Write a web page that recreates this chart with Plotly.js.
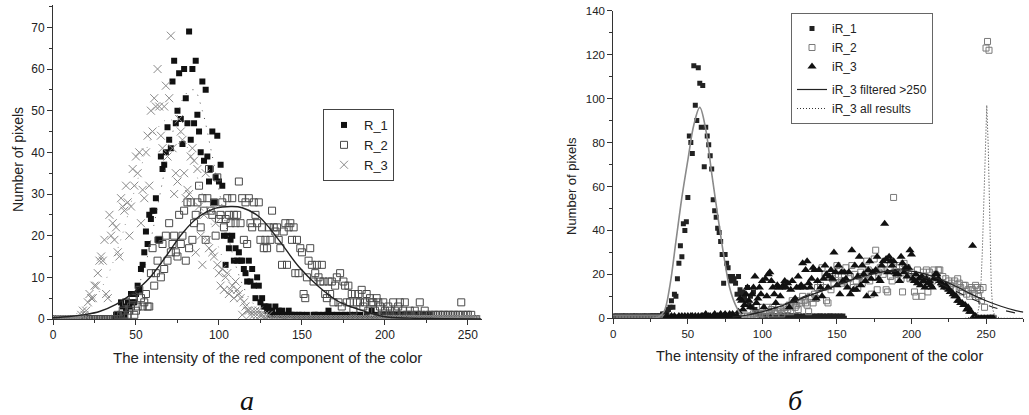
<!DOCTYPE html>
<html><head><meta charset="utf-8">
<script src="https://cdn.plot.ly/plotly-3.0.1.min.js"></script>
<style>html,body{margin:0;padding:0;background:#fff}#chart{width:1029px;height:415px}</style>
</head><body><div id="chart"></div>
<script>
const _ = null;
const intensity = [
0,1,2,3,4,5,6,7,8,9,10,11,12,13,14,15,16,17,18,19,
20,21,22,23,24,25,26,27,28,29,30,31,32,33,34,35,36,37,38,39,
40,41,42,43,44,45,46,47,48,49,50,51,52,53,54,55,56,57,58,59,
60,61,62,63,64,65,66,67,68,69,70,71,72,73,74,75,76,77,78,79,
80,81,82,83,84,85,86,87,88,89,90,91,92,93,94,95,96,97,98,99,
100,101,102,103,104,105,106,107,108,109,110,111,112,113,114,115,116,117,118,119,
120,121,122,123,124,125,126,127,128,129,130,131,132,133,134,135,136,137,138,139,
140,141,142,143,144,145,146,147,148,149,150,151,152,153,154,155,156,157,158,159,
160,161,162,163,164,165,166,167,168,169,170,171,172,173,174,175,176,177,178,179,
180,181,182,183,184,185,186,187,188,189,190,191,192,193,194,195,196,197,198,199,
200,201,202,203,204,205,206,207,208,209,210,211,212,213,214,215,216,217,218,219,
220,221,222,223,224,225,226,227,228,229,230,231,232,233,234,235,236,237,238,239,
240,241,242,243,244,245,246,247,248,249,250,251,252,253,254,255];

// ---- panel a: red component ----
const R1 = [
_,_,_,_,_,_,_,_,_,_, _,_,_,_,_,_,_,_,_,_, _,_,_,_,_,_,_,_,_,_, _,_,_,_,_,_,_,0,1,1,
0,4,3,1,2,4,3,6,4,4, 6,8,7,12,13,16,21,18,25,24, 26,26,29,19,19,39,36,37,40,46, 43,41,57,62,47,50,59,48,42,60,
53,47,69,43,60,47,62,49,45,40, 57,38,55,39,33,36,45,28,34,44, 33,37,32,20,13,20,17,19,20,14, 17,14,16,14,14,12,11,9,14,9,
12,8,5,10,8,4,5,3,3,2, 3,1,2,1,3,1,2,1,2,1, 0,1,2,1,1,0,1,0,1,0, 1,0,0,1,0,0,0,1,1,0,
1,0,0,1,0,1,2,0,1,0, 0,1,0,0,1,0,1,0,0,1, 0,0,1,0,0,1,0,0,0,1, 0,0,2,0,0,1,0,0,0,1,
0,0,0,1,0,0,0,1,0,0, 0,1,0,0,0,1,0,0,0,1, 0,0,0,1,0,0,0,1,_,_, _,_,_,_,_,_,_,_,_,_,
_,_,_,_,_,_,_,_,_,_, _,_,_,_,_,_];
const R2 = [
0,0,0,0,0,0,0,0,0,0, 0,0,0,0,0,0,0,0,0,0, 0,0,0,0,0,0,0,0,0,0, 0,0,0,0,0,0,0,0,0,1,
0,1,2,1,4,1,2,3,5,1, 2,3,7,5,3,4,6,3,3,11, 17,8,11,14,19,10,18,12,20,14, 23,16,18,20,16,15,25,18,20,26,
14,28,17,28,19,23,25,28,32,22, 29,26,19,29,36,26,25,28,20,34, 24,25,28,22,24,29,25,23,29,25, 23,25,33,23,29,19,28,18,29,23,
22,28,25,23,28,19,22,17,19,17, 22,19,26,22,21,22,19,17,13,21, 23,13,22,23,19,22,11,19,11,17, 16,6,5,10,14,17,13,9,11,13,
10,9,13,9,6,5,9,6,9,4, 8,10,4,11,3,9,8,4,8,4, 6,2,6,4,6,4,7,3,4,6, 2,5,4,4,2,5,4,3,1,4,
2,1,3,2,1,4,2,1,3,4, 1,2,4,1,1,2,1,0,2,1, 1,4,1,0,2,1,0,1,0,1, 1,0,1,1,0,1,1,0,1,1,
0,1,1,0,1,1,4,1,0,1, 1,0,1,0,0,0];
const R3 = [
0,0,0,0,0,0,0,0,0,0, 0,0,0,0,0,0,0,1,2,1, 2,4,6,5,5,8,8,11,14,15, 14,19,6,5,25,20,23,19,22,16,
15,29,27,26,32,28,20,27,36,32, 39,35,40,23,31,29,40,44,32,50, 45,53,51,60,51,44,41,51,56,39, 53,68,41,30,35,33,48,45,43,35,
29,31,30,39,41,38,16,36,27,20, 13,25,35,19,17,26,16,15,23,13, 11,8,12,7,10,11,6,7,8,5, 9,7,6,5,1,4,3,2,2,1,
2,1,2,1,2,1,1,0,1,0, 1,0,0,0,0,0,0,0,0,0, 0,0,0,0,0,0,0,0,0,0, 0,0,0,0,0,0,0,0,0,0,
0,0,0,0,0,0,0,0,0,0, 0,0,0,0,0,0,0,0,0,0, 0,0,0,0,0,0,0,0,0,0, 0,0,0,0,0,0,0,0,0,0,
0,0,0,0,0,0,0,0,0,0, 0,0,0,0,0,0,0,0,0,0, 0,0,0,0,0,0,0,0,0,0, 0,0,0,0,0,0,0,0,0,0,
0,0,0,0,0,0,0,0,0,0, 0,0,0,0,0,0];
// fitted curves
const fitR2X = [0,10,20,28,38,48,58,68,78,88,98,108,114,124,136,148,160,172,185,199,215,235,258];
const fitR2Y = [0.3,0.6,1.1,1.8,3.5,6.2,9.8,15,20.6,24.6,26.6,27,26.7,24.6,19,12.6,7.8,4.2,2.2,0.6,0.2,0.1,0];
const fitR1X = [30,40,50,55,60,65,70,75,80,85,90,95,100,105,110,115,120,130,140];
const fitR1Y = [0.5,1.7,7,12,21,31,41,49,54,55,50,41,31,21,13,7.5,4,1,0.2];
const fitR3X = [0,10,20,30,40,50,60,70,80,90,100,110,120,130,140];
const fitR3Y = [0.3,0.7,2.7,8,18,32,44,48,42,30,17,8,3,1,0.2];

// ---- panel b: infrared component ----
const iR1 = [
1,1,0,1,1,0,1,1,1,0, 1,1,0,1,1,1,0,1,1,0, 1,1,1,0,1,1,1,1,1,1, 1,1,1,2,2,2,3,4,5,8,
5,11,10,18,25,33,28,43,40,44, 55,83,80,75,115,97,90,114,107,87, 106,69,87,83,79,74,68,54,49,46, 41,39,35,29,16,29,25,23,19,17,
19,18,16,11,19,13,11,12,9,8, 14,6,10,5,12,4,3,2,2,1, 1,0,1,1,0,1,0,1,1,0, 1,0,1,0,1,1,0,1,0,1,
1,0,1,1,0,1,0,1,0,1, 0,1,1,0,1,0,1,0,1,1, 0,1,0,1,0,1,1,0,1,0, 1,0,1,0,1,0,_,_,_,_,
_,_,_,_,_,_,_,_,_,_, _,_,_,_,_,_,_,_,_,_, _,_,_,_,_,_,_,_,_,_, _,_,_,_,_,_,_,_,_,_,
_,_,_,_,_,_,_,_,_,_, _,_,_,_,_,_,_,_,_,_, _,_,_,_,_,_,_,_,_,_, _,_,_,_,_,_,_,_,_,_,
_,_,_,_,_,_,_,_,_,_, _,_,_,_,_,_];
const iR2 = [
0,0,0,0,0,0,0,0,0,0, 0,0,0,0,0,0,0,0,0,0, 0,0,0,0,0,0,0,0,0,0, 0,0,0,0,0,0,0,0,0,0,
0,0,0,0,0,0,0,0,0,0, 0,0,0,0,0,0,0,0,0,0, 0,0,0,0,0,0,0,0,0,0, 0,0,0,0,0,0,0,0,0,0,
0,0,0,0,0,0,1,0,1,0, 1,0,1,1,2,1,2,1,2,1, 5,2,1,3,5,2,4,5,3,2, 3,5,4,2,5,3,5,4,6,3,
8,7,5,6,4,8,7,10,8,7, 6,3,10,9,7,11,9,14,11,15, 23,14,20,8,7,19,13,18,16,20, 24,19,22,17,16,17,23,16,18,19,
24,14,20,17,14,19,21,16,18,20, 26,22,17,11,19,27,31,13,21,23, 22,20,25,13,12,22,19,17,55,21, 23,20,24,18,12,25,22,23,20,18,
21,19,12,10,22,18,17,10,21,19, 22,12,21,18,17,22,20,19,22,22, 16,19,15,18,14,17,15,16,13,17, 13,18,16,14,12,15,15,11,13,10,
14,13,11,15,14,10,13,8,14,5, 123,126,122,0,0,0];
const iR3 = [
_,_,_,_,_,_,_,_,_,_, _,_,_,_,_,_,_,_,_,_, _,_,_,_,_,_,_,_,_,_, _,_,_,_,_,0,1,0,0,1,
0,1,0,0,1,0,1,0,1,0, 1,0,1,1,0,1,0,1,0,1, 1,0,2,0,1,1,0,1,2,0, 1,1,2,0,1,2,1,0,2,1,
2,1,0,1,3,9,8,4,6,11, 14,8,5,11,14,19,7,9,14,11, 17,5,18,10,20,21,17,14,11,7, 15,14,10,14,15,17,14,16,5,13,
17,8,9,14,19,14,15,25,14,22, 26,16,14,18,23,22,9,17,22,14, 10,18,24,20,14,19,22,18,30,21, 15,24,11,21,17,21,18,14,21,11,
31,13,24,13,19,28,15,24,20,17, 10,22,26,18,21,11,22,28,18,17, 24,26,43,27,21,28,26,24,26,21, 20,20,17,28,25,21,23,19,23,31,
29,18,17,20,16,18,15,19,17,14, 18,16,17,15,14,18,20,20,18,17, 16,15,14,15,14,13,12,12,11,10, 10,8,8,7,7,6,6,4,5,3,
3,33,1,1,0,0,0,0,0,0, 0,0,0,0,0,0];
// fitted curves
const fitIR1X = [26,30,34,38,42,46,50,54,58,62,66,70,74,78,82,86,90];
const fitIR1Y = [0,0.5,3,15,35,55,72,88,96,86,66,47,29,14,6,1.5,0];
const fitFiltX = [80,90,100,110,120,130,140,150,160,170,180,190,200,210,220,230,240,250,260,270,275];
const fitFiltY = [0.6,1.5,3,5,7.5,10,12.5,15,17.5,19.5,21,22,21.5,20,17.5,14.5,11,8,5.5,3.5,2.8];
const fitDashX = [80,90,100,110,120,130,140,150,160,170,180,190,200,210,220,230,240,250,260,270,275];
const fitDashY = [0.6,1.5,3.2,5.3,7.8,10.5,13,15.5,17.8,19.8,21,21.3,20.3,18.3,15.5,12.3,9,6.2,4,2.4,1.9];
const fitAllX = [236,244,245.5,246.5,247.5,248.5,249.5,250.5,251.5,252.5,253.5,254.5,256,260,275];
const fitAllY = [0,1,6,14,30,52,76,97,78,45,15,4,1,0,0];

const W = 1029, H = 415;
const px = v => v / W, py = v => 1 - v / H;
const FONT = 'Liberation Sans, Arial, sans-serif';
const AX = '#333';

const traces = [
  {x: intensity, y: R1, xaxis:'x', yaxis:'y', mode:'markers', name:'R_1', legend:'legend',
   marker:{symbol:'square', size:6, color:'#111'}},
  {x: intensity, y: R2, xaxis:'x', yaxis:'y', mode:'markers', name:'R_2', legend:'legend',
   marker:{symbol:'square-open', size:7, color:'#4a4a4a', line:{width:1}}},
  {x: intensity, y: R3, xaxis:'x', yaxis:'y', mode:'markers', name:'R_3', legend:'legend',
   marker:{symbol:'x-thin-open', size:8, color:'#8a8a8a', line:{width:1, color:'#8a8a8a'}}},
  {x: fitR1X, y: fitR1Y, xaxis:'x', yaxis:'y', mode:'lines', showlegend:false,
   line:{color:'#555', width:1, dash:'1px,7px', shape:'spline'}},
  {x: fitR3X, y: fitR3Y, xaxis:'x', yaxis:'y', mode:'lines', showlegend:false,
   line:{color:'#999', width:1, dash:'1px,7px', shape:'spline'}},
  {x: fitR2X, y: fitR2Y, xaxis:'x', yaxis:'y', mode:'lines', showlegend:false,
   line:{color:'#222', width:1.4, shape:'spline'}},

  {x: intensity, y: iR1, xaxis:'x2', yaxis:'y2', mode:'markers', name:'iR_1', legend:'legend2', legendgroup:'pts',
   marker:{symbol:'square', size:5, color:'#222'}},
  {x: intensity, y: iR2, xaxis:'x2', yaxis:'y2', mode:'markers', name:'iR_2', legend:'legend2', legendgroup:'pts',
   marker:{symbol:'square-open', size:6, color:'#7a7a7a', line:{width:1}}},
  {x: intensity, y: iR3, xaxis:'x2', yaxis:'y2', mode:'markers', name:'iR_3', legend:'legend2', legendgroup:'pts',
   marker:{symbol:'triangle-up', size:8, color:'#111'}},
  {x: fitIR1X, y: fitIR1Y, xaxis:'x2', yaxis:'y2', mode:'lines', showlegend:false,
   line:{color:'#8a8a8a', width:1.6, shape:'spline'}},
  {x: fitDashX, y: fitDashY, xaxis:'x2', yaxis:'y2', mode:'lines', showlegend:false,
   line:{color:'#222', width:1.1, dash:'dash', shape:'spline'}},
  {x: fitFiltX, y: fitFiltY, xaxis:'x2', yaxis:'y2', mode:'lines', name:'iR_3 filtered >250', legend:'legend2', legendgroup:'fits',
   line:{color:'#222', width:1.2, shape:'spline'}},
  {x: fitAllX, y: fitAllY, xaxis:'x2', yaxis:'y2', mode:'lines', name:'iR_3 all results', legend:'legend2', legendgroup:'fits',
   line:{color:'#333', width:1, dash:'1px,2px'}}
];

const axBase = {
  showline:true, linecolor:AX, linewidth:1, mirror:false,
  ticks:'outside', ticklen:5, tickwidth:1, tickcolor:AX,
  showgrid:false, zeroline:false, fixedrange:true,
  tickfont:{family:FONT, size:12, color:'#222'}
};

function ann(text, x, y, size, extra) {
  return Object.assign({text:text, xref:'paper', yref:'paper', x:px(x), y:py(y),
    xanchor:'center', yanchor:'middle', showarrow:false,
    font:{family:FONT, size:size, color:'#222'}}, extra || {});
}

const layout = {
  width:W, height:H, margin:{l:0, r:0, t:0, b:0},
  paper_bgcolor:'#fff', plot_bgcolor:'rgba(0,0,0,0)',
  showlegend:true,
  xaxis: Object.assign({}, axBase, {domain:[px(53), px(482)], range:[0,258.5], anchor:'y',
    tick0:0, dtick:50, minor:{dtick:25, ticks:'outside', ticklen:3, tickcolor:AX, showgrid:false}}),
  yaxis: Object.assign({}, axBase, {domain:[py(319), py(5.3)], range:[0,75.3], anchor:'x',
    tick0:0, dtick:10, minor:{dtick:5, ticks:'outside', ticklen:3, tickcolor:AX, showgrid:false}}),
  xaxis2: Object.assign({}, axBase, {domain:[px(613.3), px(1023.3)], range:[0,275], anchor:'y2',
    tickfont:{family:FONT, size:11.5, color:'#222'},
    tick0:0, dtick:50, minor:{dtick:25, ticks:'outside', ticklen:3, tickcolor:AX, showgrid:false}}),
  yaxis2: Object.assign({}, axBase, {domain:[py(318.3), py(10.7)], range:[0,140], anchor:'x2',
    tickfont:{family:FONT, size:11.5, color:'#222'},
    tick0:0, dtick:20, minor:{dtick:10, ticks:'outside', ticklen:3, tickcolor:AX, showgrid:false}}),
  legend: {x:px(323), y:py(109), xanchor:'left', yanchor:'top', bgcolor:'#fff',
    bordercolor:'#444', borderwidth:1, font:{family:FONT, size:13, color:'#222'}, itemwidth:30},
  legend2: {x:px(791), y:py(13), xanchor:'left', yanchor:'top', bgcolor:'#fff',
    bordercolor:'#666', borderwidth:1, font:{family:FONT, size:12, color:'#222'}, itemwidth:30,
    traceorder:'grouped', tracegroupgap:4},
  annotations: [
    ann('Number of pixels', 18, 160, 14, {textangle:-90}),
    ann('Number of pixels', 571, 186, 13, {textangle:-90}),
    ann('The intensity of the red component of the color', 267, 357, 15),
    ann('The intensity of the infrared component of the color', 819, 356, 14.5),
    ann('<i>a</i>', 247, 400, 28, {font:{family:'Liberation Serif, Times New Roman, serif', size:28, color:'#111'}}),
    ann('<i>б</i>', 795, 400, 28, {font:{family:'Liberation Serif, Times New Roman, serif', size:28, color:'#111'}})
  ]
};

Plotly.newPlot('chart', traces, layout, {displayModeBar:false, staticPlot:true});
</script>
</body></html>
